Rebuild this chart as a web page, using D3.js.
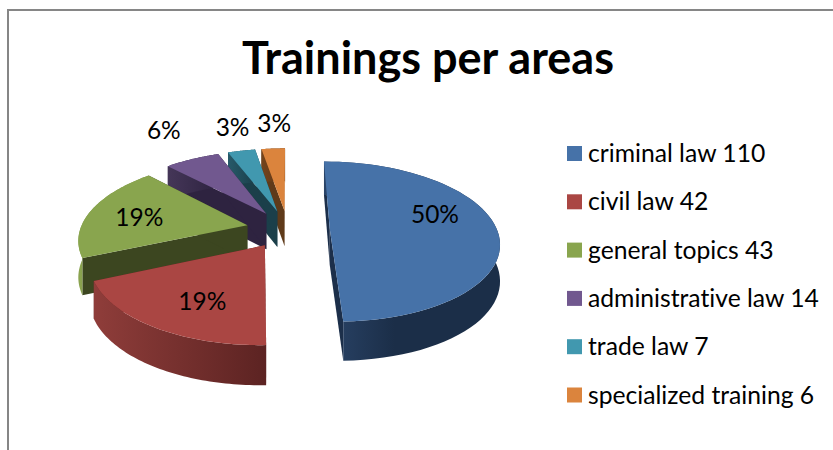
<!DOCTYPE html>
<html><head><meta charset="utf-8">
<script src="https://cdn.jsdelivr.net/npm/d3@7"></script>
<style>html,body{margin:0;padding:0;background:#fff;overflow:hidden}svg{display:block}text{font-family:Lato,"Open Sans",sans-serif;fill:#000;font-variant-ligatures:none;font-feature-settings:"liga" 0}</style>
</head><body><svg id="c" width="833" height="450"></svg>
<script>
const categories = ["criminal law","civil law","general topics","administrative law","trade law","specialized training"];
const values = [110,42,43,14,7,6];
const percentLabels = ["50%","19%","19%","6%","3%","3%"];
const topColors = ["#4672a8","#aa4643","#89a54e","#71588f","#4198af","#db843d"];
const wallFrom = ["#2a4468","#8f3d3a","#8aa34f","#453658","#275a69","#74441c"];
const wallTo   = ["#1b2e48","#5c2322","#7d9546","#2d2340","#1b3f4a","#5a3516"];
const edgeWall = ["#1c2f4a","#5c2322","#3c4620","#2e2340","#1b3f4a","#5f3a19"];
const titleText = "Trainings per areas";

// layout
const W=833,H=450;
const cx=288, cy=229, Rx=167, Ry=78, persp=0.16, explodeX=0.25, explodeY=0.24, depth=36;
const labelNudge=[[2,-13],[-11,19],[-10,2],[-2,-9],[3,-3],[5,-3]];
const labelRadius=[0.62,0.5,0.62,1.42,1.40,1.42];

const svg=d3.select("#c");
svg.append("path").attr("d",`M8,${H} V10 H${W}`).attr("fill","none").attr("stroke","#868686").attr("stroke-width",2);

svg.append("text").attr("x",428).attr("y",74).attr("text-anchor","middle")
  .attr("font-size",45).attr("font-weight",700).text(titleText);

const arcs=d3.pie().sort(null).value(d=>d)(values);
const rx=d3.scaleLinear().domain([0,1]).range([0,Rx]);
const ry=d3.scaleLinear().domain([0,1]).range([0,Ry]);

function project(X,Y,z){
  const s=1/(1+persp*Y);
  return [cx+rx(X)*s, cy-ry(Y)*s+z*Math.sqrt(s)];
}
function pt(arc,r,a,z){
  const m=(arc.startAngle+arc.endAngle)/2;
  const X=explodeX*Math.sin(m)+r*Math.sin(a), Y=explodeY*Math.cos(m)+r*Math.cos(a);
  return project(X,Y,z);
}
const line=d3.line().curve(d3.curveLinearClosed);
const defs=svg.append("defs");
const g=svg.append("g");

// paint back to front
const order=[5,4,3,2,0,1];
order.forEach(i=>{
  const a=arcs[i];
  const steps=d3.range(0,61).map(t=>a.startAngle+(a.endAngle-a.startAngle)*t/60);
  const top=steps.map(t=>pt(a,1,t,0)), bot=steps.map(t=>pt(a,1,t,depth));
  const apexT=pt(a,0,0,0), apexB=pt(a,0,0,depth);
  const sg=g.append("g");
  const gid="w"+i;
  const xs=top.map(p=>p[0]);
  const lg=defs.append("linearGradient").attr("id",gid).attr("gradientUnits","userSpaceOnUse")
    .attr("x1",d3.min(xs)).attr("x2",d3.max(xs)).attr("y1",0).attr("y2",0);
  lg.append("stop").attr("offset",0).attr("stop-color",wallFrom[i]);
  if(i===0) lg.append("stop").attr("offset",0.4).attr("stop-color",wallTo[i]);
  lg.append("stop").attr("offset",1).attr("stop-color",wallTo[i]);
  sg.append("path").attr("d",line([apexT,top[0],bot[0],apexB])).attr("fill",edgeWall[i]);
  sg.append("path").attr("d",line([apexT,top[60],bot[60],apexB])).attr("fill",edgeWall[i]);
  sg.append("path").attr("d",line(top.concat(bot.slice().reverse()))).attr("fill",`url(#${gid})`);
  sg.append("path").attr("d",line([apexT].concat(top))).attr("fill",topColors[i]);
});

// labels
arcs.forEach((a,i)=>{
  const m=(a.startAngle+a.endAngle)/2;
  const p=pt(a,labelRadius[i],m,0);
  svg.append("text").attr("x",p[0]+labelNudge[i][0]).attr("y",p[1]+labelNudge[i][1]+8)
    .attr("text-anchor","middle").attr("font-size",24.5).text(percentLabels[i]);
});

// legend
const ly=d3.scalePoint().domain(categories).range([153.5,395]);
const lg=svg.append("g").selectAll("g").data(categories).join("g")
  .attr("transform",d=>`translate(567,${ly(d)})`);
lg.append("rect").attr("x",0).attr("y",-7.5).attr("width",15).attr("height",15).attr("fill",(d,i)=>topColors[i]);
lg.append("text").attr("x",21).attr("y",8.5).attr("font-size",24.7).text((d,i)=>`${d} ${values[i]}`);
</script></body></html>
